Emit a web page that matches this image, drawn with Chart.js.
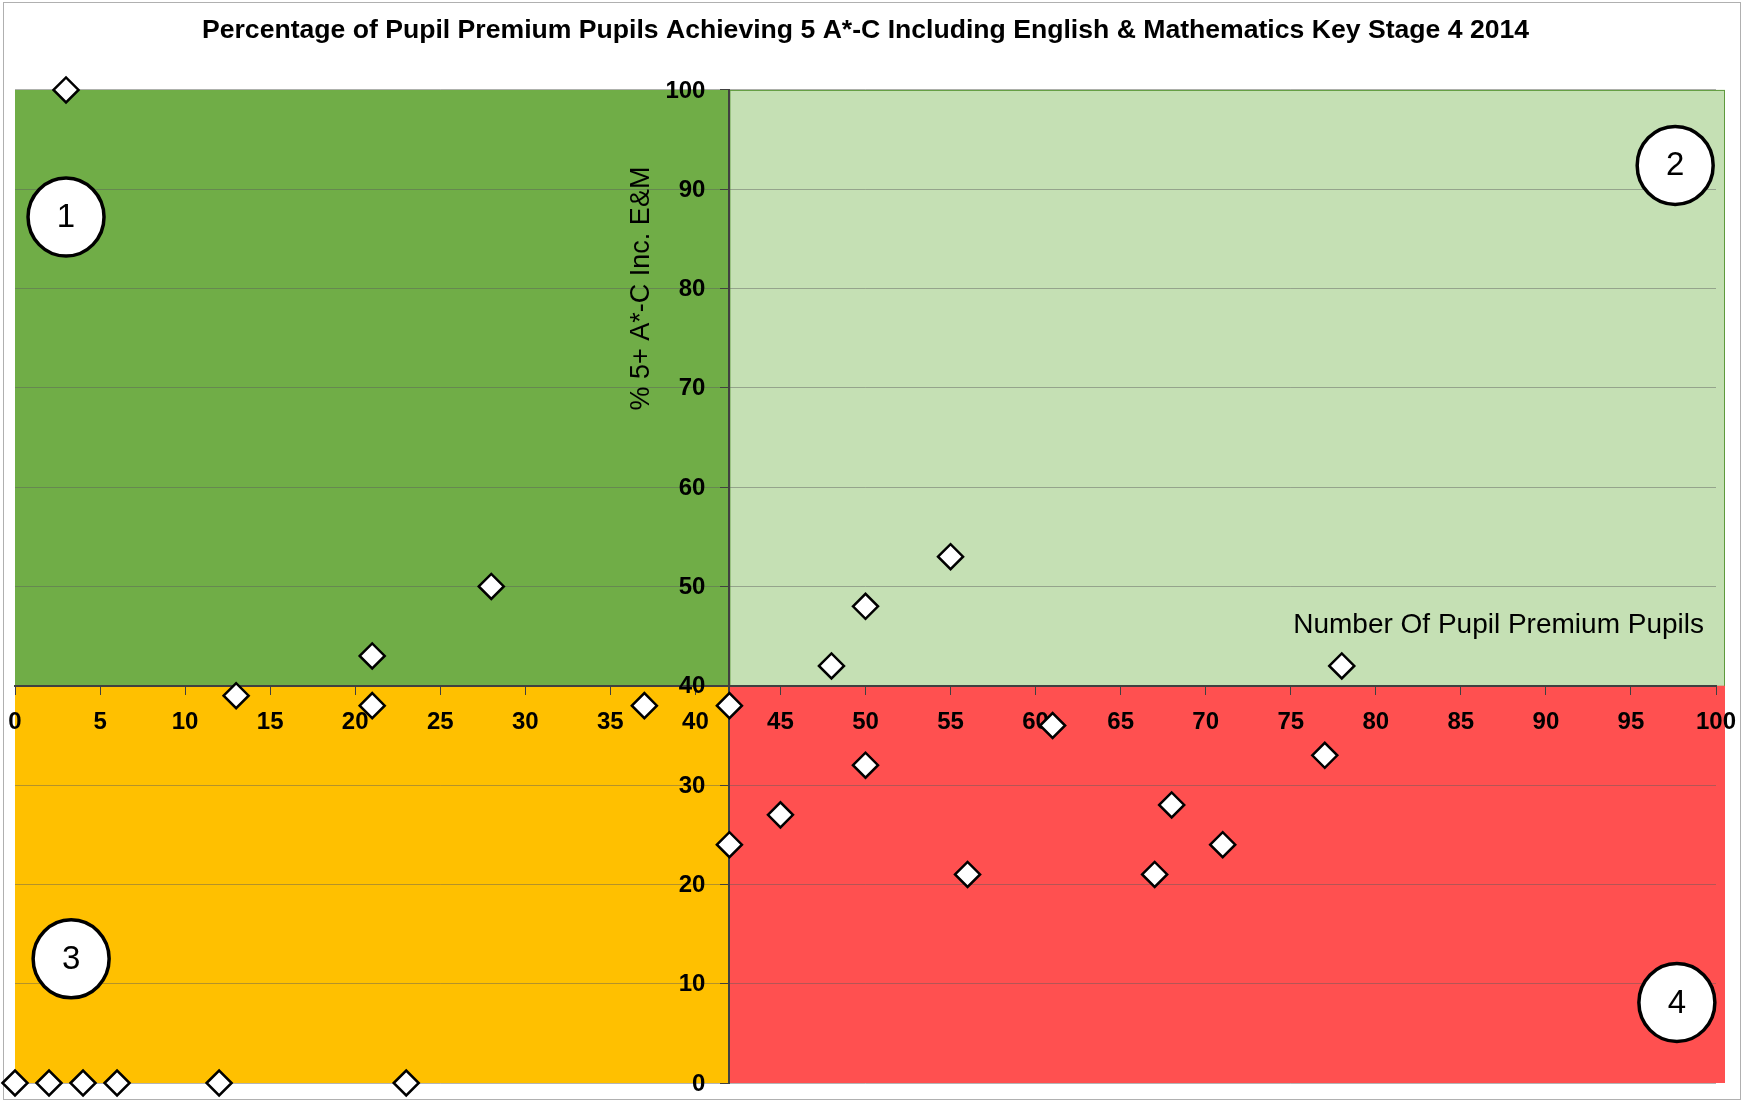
<!DOCTYPE html>
<html>
<head>
<meta charset="utf-8">
<script src="https://cdn.jsdelivr.net/npm/chart.js@4.4.0/dist/chart.umd.min.js"></script>
<style>
  html, body { margin: 0; padding: 0; background: #fff; }
  #wrap { width: 1743px; height: 1102px; }
</style>
</head>
<body>
<div id="wrap"><canvas id="chart"></canvas></div>
<script>
// number of pupil premium pupils per school (x) and % achieving 5+ A*-C inc. E&M (y)
const pupilCounts = [3, 28, 21, 13, 21, 37, 42, 48, 50, 55, 78, 61, 50, 77, 45, 68, 42, 71, 56, 67, 0, 2, 4, 6, 12, 23];
const percentAchieving = [100, 50, 43, 39, 38, 38, 38, 42, 48, 53, 42, 36, 32, 33, 27, 28, 24, 24, 21, 21, 0, 0, 0, 0, 0, 0];

const splitX = 42;
const splitY = 40;

const quadrantNames = ["1", "2", "3", "4"];
const quadrantNameX = [3, 97.6, 3.3, 97.7];
const quadrantNameY = [87.2, 92.4, 12.5, 8.1];

const titleText = "Percentage of Pupil Premium Pupils Achieving 5 A*-C Including English & Mathematics Key Stage 4 2014";
const xTitle = "Number Of Pupil Premium Pupils";
const yTitle = "% 5+ A*-C Inc. E&M";

const fontFamily = "'Liberation Sans', sans-serif";

const quadrantPlugin = {
  id: "quadrants",
  beforeDraw(chart) {
    const { ctx, chartArea, scales } = chart;
    const x = scales.x;
    const y = scales.y;
    const midX = x.getPixelForValue(splitX);
    const midY = y.getPixelForValue(splitY);
    const right = chartArea.right + 9;

    ctx.save();
    ctx.strokeStyle = "#b0b0b0";
    ctx.lineWidth = 1;
    ctx.strokeRect(3.5, 2.5, chart.width - 6, chart.height - 5);

    ctx.fillStyle = "#70ad47";
    ctx.fillRect(chartArea.left, chartArea.top, midX - chartArea.left, midY - chartArea.top);
    ctx.fillStyle = "#c5e0b4";
    ctx.fillRect(midX, chartArea.top, right - midX, midY - chartArea.top);
    ctx.strokeStyle = "#5e9a3c";
    ctx.strokeRect(midX + 0.5, chartArea.top + 0.5, right - midX - 1, midY - chartArea.top);
    ctx.fillStyle = "#ffc000";
    ctx.fillRect(chartArea.left, midY, midX - chartArea.left, chartArea.bottom - midY);
    ctx.fillStyle = "#ff5050";
    ctx.fillRect(midX, midY, right - midX, chartArea.bottom - midY);
    ctx.restore();
  },
  afterDraw(chart) {
    const { ctx, scales } = chart;
    const x = scales.x;
    const y = scales.y;
    const axisX = x.getPixelForValue(splitX);

    ctx.save();
    ctx.fillStyle = "#000";

    // y tick labels, set off to the left of the crossing axis
    ctx.font = "bold 24px " + fontFamily;
    ctx.textAlign = "right";
    ctx.textBaseline = "middle";
    y.ticks.forEach((tick) => {
      ctx.fillText(String(tick.value), axisX - 24, y.getPixelForValue(tick.value) + 1);
    });

    // axis titles
    ctx.font = "28px " + fontFamily;
    ctx.textAlign = "right";
    ctx.fillText(xTitle, x.getPixelForValue(100) - 12, y.getPixelForValue(46.1));

    ctx.save();
    ctx.translate(axisX - 88, y.getPixelForValue(80));
    ctx.rotate(-Math.PI / 2);
    ctx.textAlign = "center";
    ctx.font = "27px " + fontFamily;
    ctx.fillText(yTitle, 0, 0);
    ctx.restore();

    // numbered quadrant circles
    quadrantNames.forEach((name, i) => {
      const cx = x.getPixelForValue(quadrantNameX[i]);
      const cy = y.getPixelForValue(quadrantNameY[i]);
      ctx.beginPath();
      ctx.ellipse(cx, cy, 38, 39, 0, 0, Math.PI * 2);
      ctx.fillStyle = "#fff";
      ctx.fill();
      ctx.lineWidth = 3.5;
      ctx.strokeStyle = "#000";
      ctx.stroke();
      ctx.fillStyle = "#000";
      ctx.font = "33px " + fontFamily;
      ctx.textAlign = "center";
      ctx.textBaseline = "middle";
      ctx.fillText(name, cx, cy + 1);
    });
    ctx.restore();
  }
};

new Chart(document.getElementById("chart"), {
  type: "scatter",
  data: {
    datasets: [{
      label: "Schools",
      data: pupilCounts.map((count, i) => ({ x: count, y: percentAchieving[i] })),
      pointStyle: "rectRot",
      pointRadius: 12.5,
      pointHoverRadius: 12.5,
      pointBackgroundColor: "#fff",
      pointBorderColor: "#000",
      pointBorderWidth: 2.5,
      clip: false
    }]
  },
  options: {
    responsive: true,
    maintainAspectRatio: false,
    animation: false,
    layout: { padding: { left: 15, right: 27, top: 0, bottom: 19 } },
    plugins: {
      legend: { display: false },
      tooltip: { enabled: false },
      title: {
        display: true,
        text: titleText,
        color: "#000",
        font: { family: fontFamily, size: 26.6, weight: "bold" },
        padding: { top: 15, bottom: 43 }
      }
    },
    scales: {
      x: {
        type: "linear",
        min: 0,
        max: 100,
        position: { y: splitY },
        afterFit(scale) {
          scale.paddingLeft = 0;
          scale.paddingRight = 0;
        },
        ticks: {
          stepSize: 5,
          color: "#000",
          padding: 14,
          font: { family: fontFamily, size: 24, weight: "bold" }
        },
        grid: { drawOnChartArea: false, tickLength: 8, tickColor: "#404040" },
        border: { color: "#404040", width: 2 }
      },
      y: {
        type: "linear",
        min: 0,
        max: 100,
        position: { x: splitX },
        ticks: { stepSize: 10, display: false },
        grid: { color: "rgba(90,90,90,0.45)", tickLength: 8, tickColor: "#404040" },
        border: { color: "#404040", width: 2 }
      }
    }
  },
  plugins: [quadrantPlugin]
});
</script>
</body>
</html>
